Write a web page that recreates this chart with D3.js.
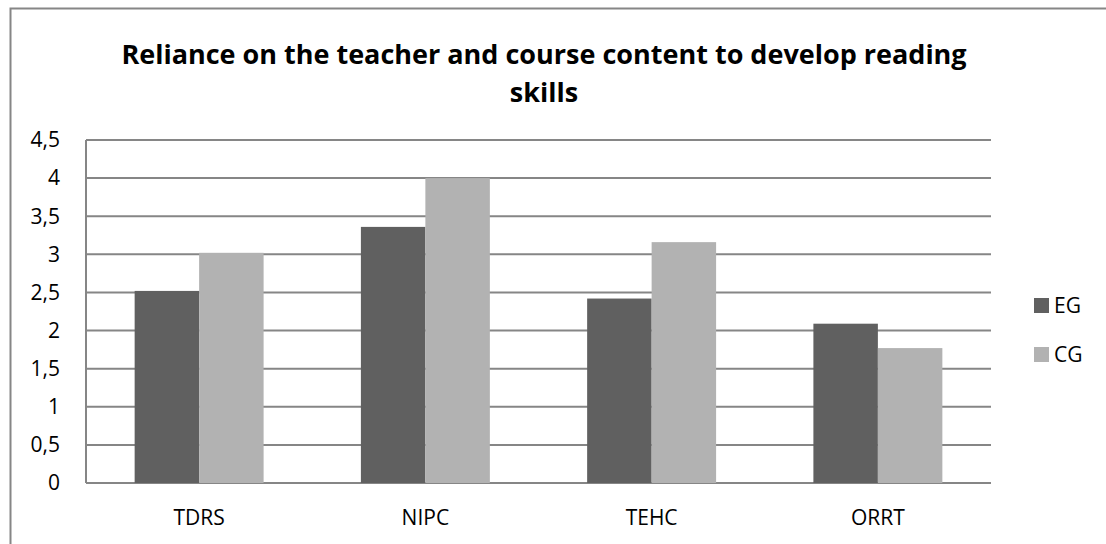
<!DOCTYPE html>
<meta charset="utf-8">
<style>
    body { margin: 0; background: #fff; }
    svg text { font-family: "Open Sans", "Noto Sans", sans-serif; fill: #000; }
</style>
<svg width="1106" height="544"></svg>
<script src="https://d3js.org/d3.v7.min.js"></script>
<script>
    // chart values
    var categories = ["TDRS", "NIPC", "TEHC", "ORRT"];
    var seriesNames = ["EG", "CG"];
    var egValues = [2.52, 3.36, 2.42, 2.09];
    var cgValues = [3.02, 4.0, 3.16, 1.77];
    var yTicks = [0, 0.5, 1, 1.5, 2, 2.5, 3, 3.5, 4, 4.5];
    var titleLines = ["Reliance on the teacher and course content to develop reading", "skills"];
    var colors = ["#606060", "#b2b2b2"];

    var svg = d3.select("svg"),
        margin = {top: 140, left: 86, bottom: 61, right: 115},
        width = +svg.attr("width") - margin.left - margin.right,
        height = +svg.attr("height") - margin.top - margin.bottom;

    // outer chart border (runs off right/bottom edge like the reference)
    svg.append("rect")
        .attr("x", 10.5).attr("y", 8.5)
        .attr("width", 1120).attr("height", 560)
        .attr("fill", "none")
        .attr("stroke", "#868686")
        .attr("stroke-width", 2);

    var x0 = d3.scaleBand().domain(categories).range([0, width]);
    var x1 = d3.scaleBand().domain(seriesNames)
        .range([0, x0.bandwidth() * 0.57]);
    var y = d3.scaleLinear().domain([0, 4.5]).range([height, 0]);

    var g = svg.append("g")
        .attr("transform", "translate(" + margin.left + "," + margin.top + ")");

    // gridlines
    g.append("g")
        .selectAll("line")
        .data(yTicks)
        .enter().append("line")
        .attr("x1", 0).attr("x2", width)
        .attr("y1", d => y(d)).attr("y2", d => y(d))
        .attr("stroke", "#868686")
        .attr("stroke-width", 2);

    // left axis line
    g.append("line")
        .attr("x1", 0).attr("x2", 0)
        .attr("y1", 0).attr("y2", height)
        .attr("stroke", "#868686")
        .attr("stroke-width", 2);

    // y tick labels
    g.append("g")
        .selectAll("text")
        .data(yTicks)
        .enter().append("text")
        .attr("x", -26)
        .attr("y", d => y(d))
        .attr("dy", "0.35em")
        .attr("text-anchor", "end")
        .style("font-size", "21px")
        .text(d => String(d).replace(".", ","));

    // bars
    var rows = categories.map((c, i) => ({cat: c, vals: [egValues[i], cgValues[i]]}));
    var offset = (x0.bandwidth() - x1.range()[1]) / 2;

    g.append("g")
        .selectAll("g")
        .data(rows)
        .enter().append("g")
        .attr("transform", d => "translate(" + (x0(d.cat) + offset) + ",0)")
        .selectAll("rect")
        .data(d => d.vals.map((v, j) => ({name: seriesNames[j], v: v, j: j})))
        .enter().append("rect")
        .attr("x", d => x1(d.name))
        .attr("width", x1.bandwidth())
        .attr("y", d => y(d.v))
        .attr("height", d => height - y(d.v))
        .attr("fill", d => colors[d.j]);

    // x labels
    g.append("g")
        .selectAll("text")
        .data(categories)
        .enter().append("text")
        .attr("x", d => x0(d) + x0.bandwidth() / 2)
        .attr("y", height + 35)
        .attr("dy", "0.35em")
        .attr("text-anchor", "middle")
        .style("font-size", "21px")
        .text(d => d);

    // title
    svg.append("g")
        .selectAll("text")
        .data(titleLines)
        .enter().append("text")
        .attr("x", 544)
        .attr("y", (d, i) => 64 + i * 38)
        .attr("text-anchor", "middle")
        .style("font-size", "27px")
        .style("font-weight", "bold")
        .text(d => d);

    // legend
    var legend = svg.append("g")
        .selectAll("g")
        .data(seriesNames)
        .enter().append("g")
        .attr("transform", (d, i) => "translate(1034," + (298 + i * 49) + ")");

    legend.append("rect")
        .attr("width", 15).attr("height", 15)
        .attr("fill", (d, i) => colors[i]);

    legend.append("text")
        .attr("x", 20).attr("y", 8)
        .attr("dy", "0.35em")
        .style("font-size", "21px")
        .text(d => d);
</script>
